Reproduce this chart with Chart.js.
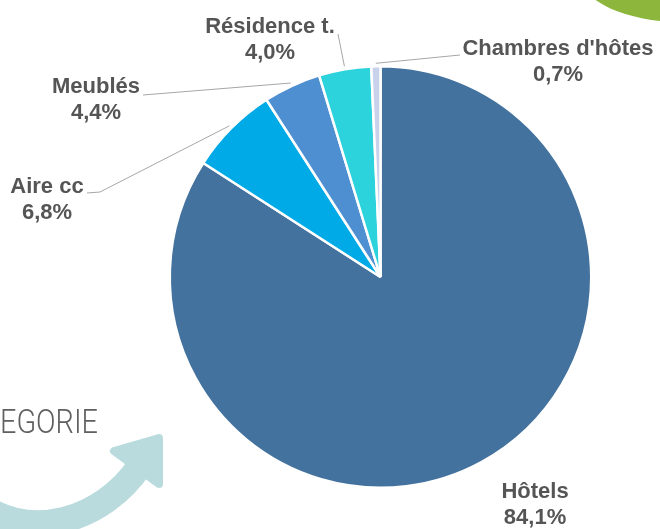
<!DOCTYPE html>
<html>
<head>
<meta charset="utf-8">
<script src="https://cdn.jsdelivr.net/npm/chart.js@4/dist/chart.umd.min.js"></script>
<style>
  html, body { margin: 0; padding: 0; background: #ffffff; }
  #wrap { width: 660px; height: 529px; position: relative; overflow: hidden; }
</style>
</head>
<body>
<div id="wrap"><canvas id="c" width="660" height="529"></canvas></div>
<script>
// ---- data ----
const categories = ["Hôtels", "Aire cc", "Meublés", "Résidence t.", "Chambres d'hôtes"];
const shares = [84.1, 6.8, 4.4, 4.0, 0.7];
const sliceColors = ["#43729E", "#00AAE6", "#4D8FD1", "#2CD2DC", "#C8D2EB"];

// label layout (text centre of first line, and leader start point)
const labelLayout = [
  { x: 535, y: 492, leader: null },
  { x: 47,  y: 187, leader: [[87, 193], [100, 192]] },
  { x: 96,  y: 87,  leader: [[143, 95]] },
  { x: 270, y: 27,  leader: [[338, 34]] },
  { x: 558, y: 49,  leader: [[460, 55]] }
];

const fmt = v => v.toFixed(1).replace('.', ',') + '%';

const decorPlugin = {
  id: 'decor',
  beforeDraw(chart) {
    const ctx = chart.ctx;
    ctx.save();
    // green blob top right
    ctx.fillStyle = '#8DB63C';
    ctx.beginPath();
    ctx.ellipse(682, -25, 102, 47, 0, 0, Math.PI * 2);
    ctx.fill();
    // partial title text
    ctx.fillStyle = '#606060';
    ctx.font = '300 34px Roboto';
    ctx.textBaseline = 'alphabetic';
    const t = 'EGORIE';
    const w = ctx.measureText(t).width;
    ctx.save();
    ctx.translate(0, 433);
    ctx.scale(98 / w, 1);
    ctx.fillText(t, 0, 0);
    ctx.restore();
    // teal arrow
    ctx.strokeStyle = '#B9DBDD';
    ctx.fillStyle = '#B9DBDD';
    ctx.lineWidth = 26;
    ctx.lineCap = 'butt';
    ctx.beginPath();
    ctx.moveTo(-30, 497);
    ctx.bezierCurveTo(30, 548, 105, 517, 139, 467);
    ctx.stroke();
    ctx.lineJoin = 'round';
    ctx.lineWidth = 8;
    ctx.beginPath();
    ctx.moveTo(114, 451);
    ctx.lineTo(159, 438);
    ctx.lineTo(159, 484);
    ctx.closePath();
    ctx.fill();
    ctx.stroke();
    ctx.restore();
  }
};

const labelPlugin = {
  id: 'pieLabels',
  afterDraw(chart) {
    const ctx = chart.ctx;
    const meta = chart.getDatasetMeta(0);
    ctx.save();
    meta.data.forEach((arc, i) => {
      const L = labelLayout[i];
      const p = arc.getProps(['x', 'y', 'startAngle', 'endAngle', 'outerRadius'], true);
      const mid = (p.startAngle + p.endAngle) / 2;
      if (L.leader) {
        const ex = p.x + (p.outerRadius + 3) * Math.cos(mid);
        const ey = p.y + (p.outerRadius + 3) * Math.sin(mid);
        ctx.strokeStyle = '#A6A6A6';
        ctx.lineWidth = 1;
        ctx.beginPath();
        ctx.moveTo(L.leader[0][0], L.leader[0][1]);
        for (let k = 1; k < L.leader.length; k++) ctx.lineTo(L.leader[k][0], L.leader[k][1]);
        ctx.lineTo(ex, ey);
        ctx.stroke();
      }
      ctx.fillStyle = '#555555';
      ctx.font = 'bold 22px "Liberation Sans", Arial, sans-serif';
      ctx.textAlign = 'center';
      ctx.textBaseline = 'middle';
      ctx.fillText(categories[i], L.x, L.y);
      ctx.fillText(fmt(shares[i]), L.x, L.y + 26);
    });
    ctx.restore();
  }
};

new Chart(document.getElementById('c'), {
  type: 'pie',
  data: {
    labels: categories,
    datasets: [{
      data: shares,
      backgroundColor: sliceColors,
      borderColor: '#ffffff',
      borderWidth: 2.5
    }]
  },
  options: {
    responsive: false,
    animation: false,
    layout: { padding: { left: 168, right: 67, top: 65, bottom: 40 } },
    plugins: { legend: { display: false }, tooltip: { enabled: false } }
  },
  plugins: [decorPlugin, labelPlugin]
});
</script>
</body>
</html>
